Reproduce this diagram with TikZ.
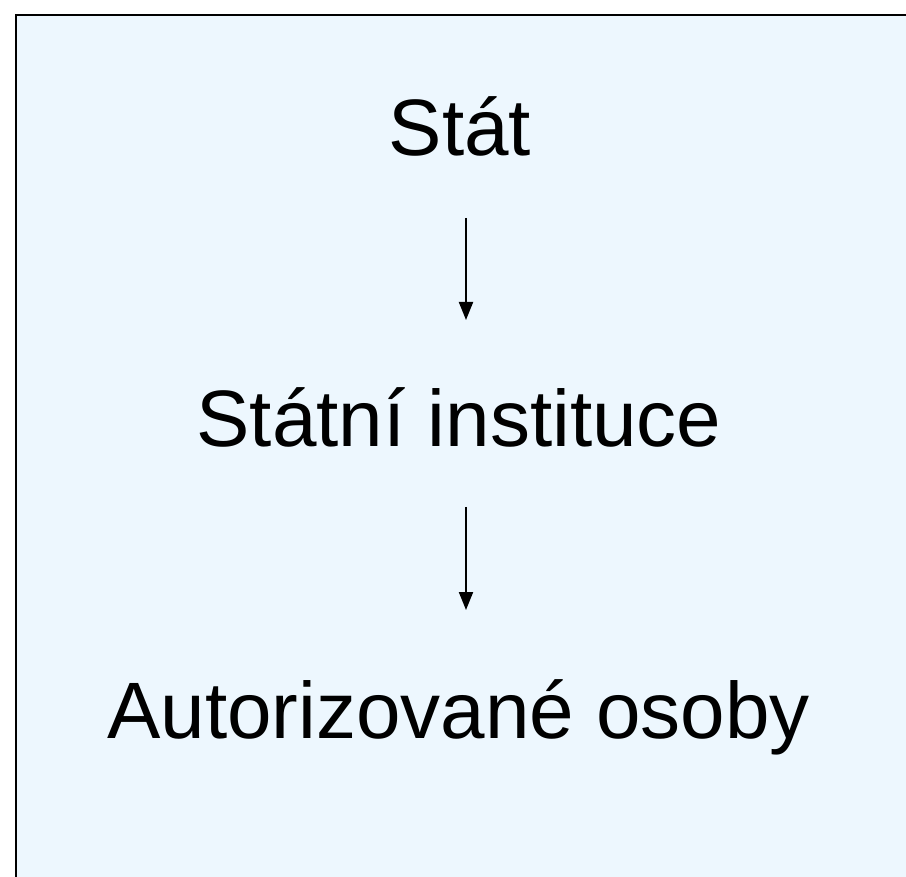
\documentclass[tikz,border=0pt]{standalone}
\usepackage{fontspec}
\setmainfont{Liberation Sans}
\usetikzlibrary{arrows.meta}
\definecolor{bgblue}{HTML}{EDF7FE}
\tikzset{
  lbl/.style={anchor=base, inner sep=0pt, font=\fontsize{80}{96}\selectfont},
  conn/.style={line width=2pt, -{Triangle[width=14pt,length=18pt]}}
}
\begin{document}
\begin{tikzpicture}[x=1pt,y=-1pt]
\useasboundingbox (0,0) rectangle (906,877);
\clip (0,0) rectangle (906,877);
\fill[white] (0,0) rectangle (906,877);
\draw[line width=2pt, fill=bgblue] (15.5,15) rectangle (940,920);
\node[lbl] (stat) at (460,156) {Stát};
\node[lbl] (inst) at (459,447) {Státní instituce};
\node[lbl] (osoby) at (458.5,738) {Autorizované osoby};
\coordinate (a1s) at (466,218);
\coordinate (a1e) at (466,320);
\coordinate (a2s) at (466,507);
\coordinate (a2e) at (466,610);
\draw[conn] (a1s) -- (a1e);
\draw[conn] (a2s) -- (a2e);
\end{tikzpicture}
\end{document}
